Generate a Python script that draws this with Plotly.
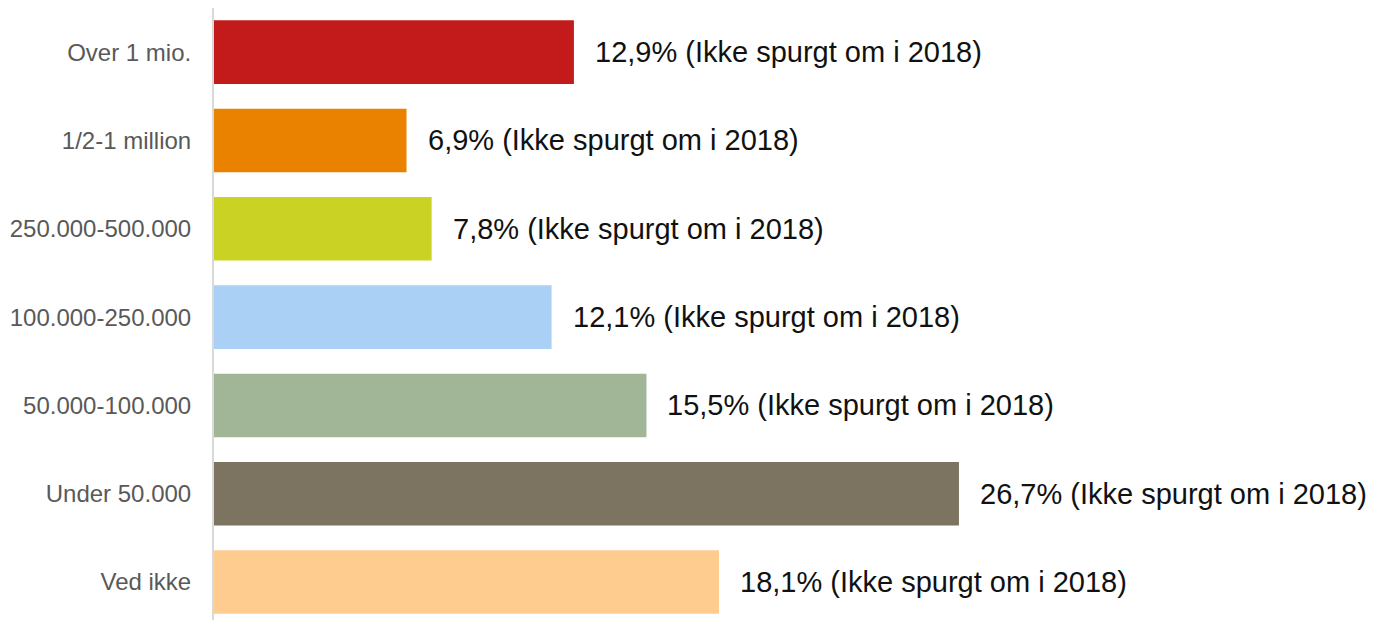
import plotly.graph_objects as go

categories = ["Ved ikke", "Under 50.000", "50.000-100.000", "100.000-250.000",
              "250.000-500.000", "1/2-1 million", "Over 1 mio."]
values = [18.1, 26.7, 15.5, 12.1, 7.8, 6.9, 12.9]
value_labels = ["18,1%", "26,7%", "15,5%", "12,1%", "7,8%", "6,9%", "12,9%"]
suffix = " (Ikke spurgt om i 2018)"
colors = ["#FECC8F", "#7C7461", "#A0B696", "#AAD1F5",
          "#CAD324", "#EA8200", "#C31B1B"]

fig = go.Figure(go.Bar(
    y=categories, x=values, orientation="h",
    marker=dict(color=colors, line=dict(width=0)),
    width=0.72, hoverinfo="skip",
))

for c, v, lab in zip(categories, values, value_labels):
    fig.add_annotation(x=v, y=c, text=lab + suffix, showarrow=False,
                       xanchor="left", yanchor="middle", xshift=19,
                       font=dict(family="Liberation Sans, Arial", size=29, color="#111111"))

fig.update_layout(
    width=1377, height=620,
    margin=dict(l=206, r=0, t=0, b=0),
    plot_bgcolor="white", paper_bgcolor="white",
    showlegend=False,
    xaxis=dict(range=[0, 41.97], visible=False, fixedrange=True),
    yaxis=dict(categoryorder="array", categoryarray=categories,
               range=[-0.52, 6.5], showline=True, linecolor="#D9D9D9", linewidth=2,
               showgrid=False, ticks="", ticklabelstandoff=16,
               tickfont=dict(family="Liberation Sans, Arial", size=24, color="#595959")),
)

fig.write_html("out.html")
